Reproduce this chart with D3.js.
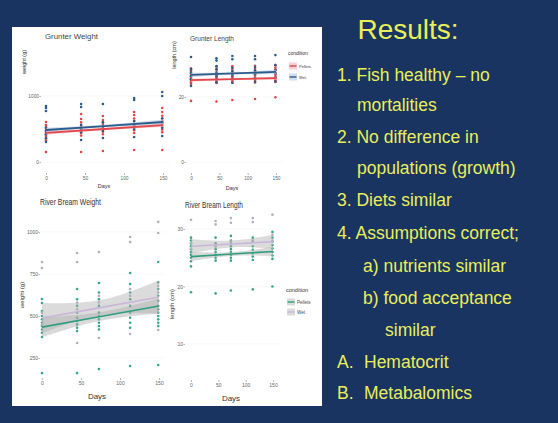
<!DOCTYPE html>
<html><head><meta charset="utf-8">
<script src="https://cdn.jsdelivr.net/npm/d3@7"></script>
<style>html,body{margin:0;padding:0;background:#1a3462;}svg{display:block;}</style>
</head><body>
<svg id="c" width="558" height="423"></svg>
<script>
// ---------- DATA ----------
const days = [0, 45, 73, 113, 149];
const fitDays = [0, 75, 150];
const xTicks = [0, 50, 100, 150];

// Grunter weight (g)
const gwPellets = [
  [152, 330, 380, 410, 440, 470, 500, 530, 560, 606],
  [152, 400, 440, 470, 500, 530, 560, 600, 651, 727],
  [167, 420, 460, 490, 520, 560, 600, 636, 697],
  [182, 440, 480, 520, 550, 580, 620, 660, 712, 758],
  [182, 450, 490, 520, 550, 580, 620, 660, 700, 758, 818]
];
const gwWet = [
  [303, 360, 420, 470, 520, 773, 818, 848],
  [333, 450, 500, 560, 833, 879],
  [364, 470, 540, 600, 879],
  [379, 500, 560, 620, 939, 970],
  [394, 520, 600, 660, 1000, 1061]
];
const gwPelletsFit = [440, 500, 560], gwPelletsLo = [412, 485, 532], gwPelletsHi = [468, 515, 588];
const gwWetFit = [485, 545, 606], gwWetLo = [450, 525, 568], gwWetHi = [520, 565, 644];
const gwTicks = [0, 1000];

// Grunter length (cm)
const glPellets = [
  [18.8, 24.0, 24.5, 25.0, 25.5, 26.0, 26.5, 27.2, 28.0, 28.8],
  [18.6, 24.3, 24.8, 25.3, 25.8, 26.3, 26.8, 27.5, 28.5, 29.3],
  [19.1, 24.4, 24.9, 25.4, 25.9, 26.4, 27.0, 27.8, 28.6, 29.5],
  [19.4, 24.5, 25.0, 25.5, 26.0, 26.6, 27.2, 28.0, 28.8, 29.6],
  [19.9, 24.6, 25.1, 25.6, 26.2, 26.8, 27.4, 28.2, 29.0, 29.8]
];
const glWet = [
  [23.4, 25.5, 26.5, 27.5, 28.5, 32.3],
  [24.5, 25.5, 26.5, 27.5, 28.5, 29.5, 31.2, 31.9],
  [24.4, 25.6, 26.8, 28.0, 29.0, 31.6, 32.6],
  [24.6, 25.8, 27.0, 28.2, 29.2, 31.6, 32.6],
  [24.8, 26.0, 27.2, 28.4, 29.8, 32.9]
];
const glPelletsFit = [25.2, 25.5, 25.8], glPelletsLo = [24.7, 25.25, 25.3], glPelletsHi = [25.7, 25.75, 26.3];
const glWetFit = [26.8, 27.25, 27.7], glWetLo = [26.1, 26.9, 27.0], glWetHi = [27.5, 27.6, 28.4];
const glTicks = [0, 20];

// River bream weight (g)
const rwPellets = [
  [160, 375, 400, 420, 440, 460, 480, 500, 530, 577, 601],
  [160, 410, 430, 450, 470, 490, 520, 560, 600, 661],
  [184, 420, 440, 460, 480, 500, 520, 560, 600, 640, 696],
  [202, 430, 460, 490, 520, 560, 600, 640, 690, 756],
  [208, 440, 460, 480, 500, 520, 540, 560, 590, 620, 660, 700, 821]
];
const rwWet = [
  [450, 520, 786, 821],
  [339, 540, 580, 821, 875],
  [369, 580, 620, 881],
  [393, 620, 660, 940, 970],
  [417, 640, 680, 994, 1060]
];
const rwPelletsFit = [434, 497, 560], rwPelletsLo = [375, 472, 515], rwPelletsHi = [493, 522, 605];
const rwWetFit = [488, 550, 613], rwWetLo = [398, 505, 513], rwWetHi = [578, 595, 713];
const rwTicks = [250, 500, 750, 1000];

// River bream length (cm)
const rlPellets = [
  [19.0, 23.5, 24.4, 25.0, 25.5, 26.0, 26.5, 27.0, 27.5, 28.0, 28.5],
  [18.8, 24.5, 25.0, 25.5, 26.0, 26.5, 27.0, 27.5, 28.5],
  [19.3, 24.5, 25.0, 25.5, 26.0, 26.5, 27.0, 27.5, 28.0, 28.8],
  [19.5, 24.6, 25.2, 25.8, 26.4, 27.0, 27.8, 28.5],
  [20.0, 24.8, 25.4, 26.0, 26.6, 27.2, 27.8, 28.5, 29.5]
];
const rlWet = [
  [26.5, 27.5, 31.6],
  [27.0, 30.8, 31.4],
  [27.8, 31.1, 31.9],
  [28.0, 31.2, 31.9],
  [28.0, 29.0, 32.5]
];
const rlPelletsFit = [25.2, 25.65, 26.1], rlPelletsLo = [24.4, 25.3, 25.3], rlPelletsHi = [26.0, 26.0, 26.9];
const rlWetFit = [27.0, 27.4, 27.8], rlWetLo = [25.8, 26.8, 26.6], rlWetHi = [28.2, 28.0, 29.0];
const rlTicks = [10, 20, 30];

const conditions = ["Pellets", "Wet"];
const bullets = [
  {t: "1. Fish healthy \u2013 no", x: 337, y: 81},
  {t: "mortalities", x: 357, y: 111},
  {t: "2. No difference in", x: 337, y: 143},
  {t: "populations (growth)", x: 357, y: 174},
  {t: "3. Diets similar", x: 337, y: 206},
  {t: "4. Assumptions correct;", x: 337, y: 239},
  {t: "a) nutrients similar", x: 363, y: 272},
  {t: "b) food acceptance", x: 363, y: 304},
  {t: "similar", x: 385, y: 336},
  {t: "A.", x: 337, y: 368}, {t: "Hematocrit", x: 364, y: 368},
  {t: "B.", x: 337, y: 399}, {t: "Metabalomics", x: 364, y: 399}
];

// ---------- DRAW ----------
const svg = d3.select("#c");
svg.append("rect").attr("width", 558).attr("height", 423).attr("fill", "#1a3462");
svg.append("rect").attr("x", 12).attr("y", 27).attr("width", 310).attr("height", 379).attr("fill", "#ffffff");

const FONT = "'Liberation Sans', Arial, sans-serif";

function panel(o) {
  const g = svg.append("g");
  const x = d3.scaleLinear().domain([0, 150]).range(o.xr);
  const y = d3.scaleLinear().domain(o.yd).range(o.yr);
  // faint grid
  g.selectAll("line.gy").data(o.yTicks).join("line")
    .attr("x1", o.gridX[0]).attr("x2", o.gridX[1])
    .attr("y1", d => y(d)).attr("y2", d => y(d)).attr("stroke", "#f3f3f3").attr("stroke-width", 0.6);
  // points
  o.series.forEach(s => {
    const pts = [];
    s.vals.forEach((arr, i) => arr.forEach(v => pts.push([days[i], v])));
    g.selectAll(null).data(pts).join("circle")
      .attr("cx", d => x(d[0])).attr("cy", d => y(d[1])).attr("r", o.r)
      .attr("fill", s.pt).attr("fill-opacity", s.ptOp || 1);
  });
  // ribbons
  o.series.forEach(s => {
    const area = d3.area().curve(d3.curveNatural)
      .x((d, i) => x(fitDays[i])).y0((d, i) => y(s.lo[i])).y1((d, i) => y(s.hi[i]));
    g.append("path").attr("d", area(s.fit)).attr("fill", s.rib).attr("fill-opacity", s.ribOp);
  });
  // lines
  o.series.forEach(s => {
    const line = d3.line().x((d, i) => x(fitDays[i])).y(d => y(d));
    g.append("path").attr("d", line(s.fit)).attr("fill", "none").attr("stroke", s.line).attr("stroke-width", o.lw);
  });
  // y axis
  const ya = d3.axisLeft(y).tickValues(o.yTicks).tickSize(1.5).tickPadding(0.5).tickFormat(d3.format("d"));
  const yg = g.append("g").attr("transform", `translate(${o.yAxisX},0)`).call(ya);
  yg.select(".domain").remove();
  yg.selectAll("line").attr("stroke", "#888").attr("stroke-width", 0.6);
  yg.selectAll("text").attr("fill", "#666").attr("font-size", o.tickFs).attr("font-family", FONT);
  // x axis
  const xa = d3.axisBottom(x).tickValues(xTicks).tickSize(2).tickPadding(1.5);
  const xg = g.append("g").attr("transform", `translate(0,${o.xAxisY})`).call(xa);
  xg.select(".domain").remove();
  xg.selectAll("line").attr("stroke", "#888").attr("stroke-width", 0.6);
  xg.selectAll("text").attr("fill", "#666").attr("font-size", o.tickFs).attr("font-family", FONT);
  // titles
  g.append("text").attr("x", o.title.x).attr("y", o.title.y).text(o.title.t)
    .attr("font-size", o.title.fs).attr("fill", o.title.c).attr("font-family", FONT)
    .attr("textLength", o.title.w).attr("lengthAdjust", "spacingAndGlyphs");
  g.append("text").attr("x", o.xl.x).attr("y", o.xl.y).text("Days").attr("text-anchor", "middle")
    .attr("font-size", o.xl.fs).attr("fill", "#333").attr("font-family", FONT);
  g.append("text").attr("transform", `translate(${o.yl.x},${o.yl.y}) rotate(-90)`).text(o.yl.t)
    .attr("text-anchor", "middle").attr("font-size", o.yl.fs).attr("fill", "#333").attr("font-family", FONT);
  // legend
  if (o.legend) {
    const L = o.legend;
    g.append("text").attr("x", L.x).attr("y", L.y).text("condition")
      .attr("font-size", L.fs).attr("fill", "#333").attr("font-family", FONT);
    o.series.forEach((s, i) => {
      const ky = L.y + L.dy * (i + 1);
      g.append("rect").attr("x", L.x + 1).attr("y", ky - 3.5).attr("width", 8).attr("height", 7)
        .attr("fill", s.rib).attr("fill-opacity", s.ribOp);
      g.append("line").attr("x1", L.x + 1.5).attr("x2", L.x + 8.5).attr("y1", ky).attr("y2", ky)
        .attr("stroke", s.line).attr("stroke-width", 1.4);
      g.append("text").attr("x", L.x + 11).attr("y", ky + 1.6).text(conditions[i])
        .attr("font-size", L.fs - 1).attr("fill", "#444").attr("font-family", FONT);
    });
  }
}

// Grunter Weight
panel({
  xr: [46, 163], yd: [0, 1000], yr: [162, 96], yTicks: gwTicks, yAxisX: 41, xAxisY: 173,
  gridX: [41, 170], r: 1.3, lw: 1.8, tickFs: 4.8,
  title: {t: "Grunter Weight", x: 45, y: 39, fs: 7, w: 53, c: "#444"},
  xl: {x: 104, y: 188, fs: 5.5}, yl: {x: 26, y: 62, t: "weight (g)", fs: 5.5},
  series: [
    {vals: gwPellets, fit: gwPelletsFit, lo: gwPelletsLo, hi: gwPelletsHi, pt: "#e2474b", line: "#e2474b", rib: "#f2b3b5", ribOp: 0.6},
    {vals: gwWet, fit: gwWetFit, lo: gwWetLo, hi: gwWetHi, pt: "#2b5c8b", line: "#2b5c8b", rib: "#b6c6de", ribOp: 0.6}
  ]
});
// Grunter Length
panel({
  xr: [191, 276], yd: [0, 20], yr: [162, 97], yTicks: glTicks, yAxisX: 186, xAxisY: 173,
  gridX: [186, 283], r: 1.3, lw: 1.8, tickFs: 4.8,
  title: {t: "Grunter Length", x: 190, y: 41, fs: 7, w: 44, c: "#444"},
  xl: {x: 232, y: 190, fs: 5.5}, yl: {x: 176, y: 55, t: "length (cm)", fs: 5.5},
  legend: {x: 288, y: 55, dy: 11, fs: 5},
  series: [
    {vals: glPellets, fit: glPelletsFit, lo: glPelletsLo, hi: glPelletsHi, pt: "#e2474b", line: "#e2474b", rib: "#f2b3b5", ribOp: 0.6},
    {vals: glWet, fit: glWetFit, lo: glWetLo, hi: glWetHi, pt: "#2b5c8b", line: "#2b5c8b", rib: "#b6c6de", ribOp: 0.6}
  ]
});
// River Bream Weight
panel({
  xr: [42, 159], yd: [250, 1000], yr: [358, 232], yTicks: rwTicks, yAxisX: 40, xAxisY: 378,
  gridX: [40, 165], r: 1.3, lw: 1.6, tickFs: 5,
  title: {t: "River Bream Weight", x: 40, y: 205, fs: 9, w: 61, c: "#333"},
  xl: {x: 97, y: 399, fs: 8}, yl: {x: 24, y: 295, t: "weight (g)", fs: 6},
  series: [
    {vals: rwPellets, fit: rwPelletsFit, lo: rwPelletsLo, hi: rwPelletsHi, pt: "#3aa586", line: "#2e9e7e", rib: "#aaaaaa", ribOp: 0.45},
    {vals: rwWet, fit: rwWetFit, lo: rwWetLo, hi: rwWetHi, pt: "#b4adbb", line: "#c9b6da", rib: "#b0b0b0", ribOp: 0.45}
  ]
});
// River Bream Length
panel({
  xr: [191, 273], yd: [10, 30], yr: [344, 229], yTicks: rlTicks, yAxisX: 185, xAxisY: 380,
  gridX: [185, 280], r: 1.3, lw: 1.6, tickFs: 5,
  title: {t: "River Bream Length", x: 185, y: 208, fs: 9, w: 58, c: "#333"},
  xl: {x: 231, y: 401, fs: 8}, yl: {x: 174, y: 304, t: "length (cm)", fs: 6},
  legend: {x: 286, y: 292, dy: 10, fs: 5.5},
  series: [
    {vals: rlPellets, fit: rlPelletsFit, lo: rlPelletsLo, hi: rlPelletsHi, pt: "#3aa586", line: "#2e9e7e", rib: "#aaaaaa", ribOp: 0.45},
    {vals: rlWet, fit: rlWetFit, lo: rlWetLo, hi: rlWetHi, pt: "#b4adbb", line: "#c9b6da", rib: "#b0b0b0", ribOp: 0.45}
  ]
});

// Right text
const YEL = "#e8ef5a";
svg.append("text").attr("x", 408).attr("y", 39).attr("text-anchor", "middle").text("Results:")
  .attr("font-size", 28).attr("fill", YEL).attr("font-family", FONT);
svg.selectAll("text.b").data(bullets).join("text").attr("class", "b")
  .attr("x", d => d.x).attr("y", d => d.y).text(d => d.t)
  .attr("font-size", 17.5).attr("fill", YEL).attr("font-family", FONT);
</script>
</body></html>
